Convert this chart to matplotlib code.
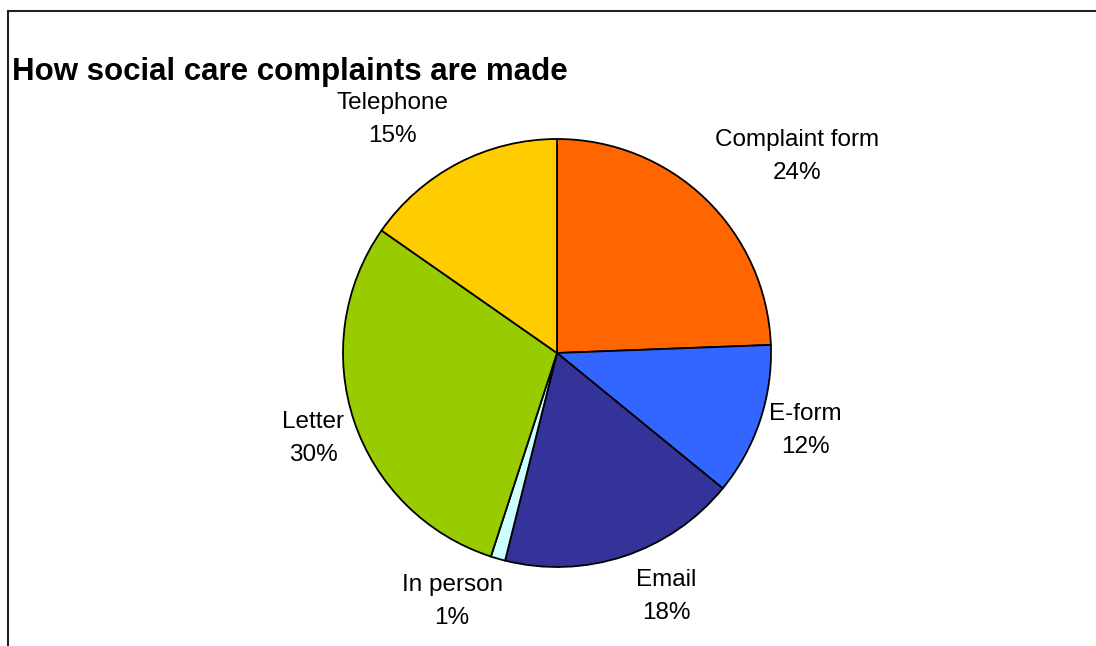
import matplotlib.pyplot as plt
from matplotlib.lines import Line2D

plt.rcParams['font.family'] = ['Liberation Sans', 'DejaVu Sans']

# data
categories = ['Complaint form', 'E-form', 'Email', 'In person', 'Letter', 'Telephone']
values = [24.4, 11.5, 18.0, 1.1, 29.7, 15.3]
pct_labels = ['24%', '12%', '18%', '1%', '30%', '15%']
colors = ['#FF6600', '#3366FF', '#333399', '#CCFFFF', '#99CC00', '#FFCC00']
title = 'How social care complaints are made'

# label positions (pie radius = 1, centre at 0,0)
label_xy = [(1.12, 0.92), (1.16, -0.36), (0.51, -1.14),
            (-0.49, -1.16), (-1.14, -0.40), (-0.77, 1.09)]

W, H = 1096, 646
cx, cy, r = 557, 353, 214

fig = plt.figure(figsize=(W / 100, H / 100), dpi=100)
ax = fig.add_axes([0, 0, 1, 1])
ax.pie(values, colors=colors, startangle=90, counterclock=False, radius=1,
       wedgeprops=dict(edgecolor='black', linewidth=1.3))
ax.set_xlim(-cx / r, (W - cx) / r)
ax.set_ylim(-(H - cy) / r, cy / r)
ax.set_aspect('auto')
ax.axis('off')

for name, pct, (x, y) in zip(categories, pct_labels, label_xy):
    ax.text(x, y, f'{name}\n{pct}', ha='center', va='center',
            fontsize=17.5, linespacing=1.65, color='black')

fig.text(12 / W, 1 - 80 / H, title, ha='left', va='baseline',
         fontsize=22.5, fontweight='bold', color='black')

# chart frame (cut off at right and bottom)
fig.add_artist(Line2D([7.5 / W, 7.5 / W], [0, 1 - 11 / H], color='#222222',
                      linewidth=1.5, transform=fig.transFigure))
fig.add_artist(Line2D([7.5 / W, 1], [1 - 11 / H, 1 - 11 / H], color='#222222',
                      linewidth=1.5, transform=fig.transFigure))

fig.savefig('out.png', dpi=100)
